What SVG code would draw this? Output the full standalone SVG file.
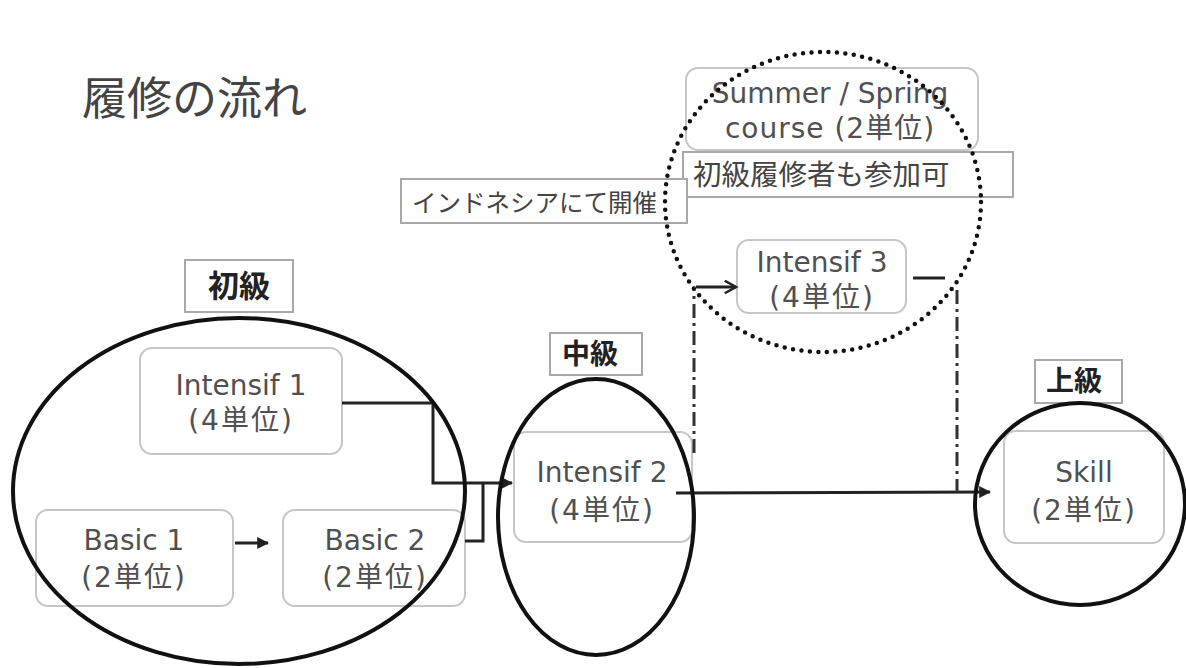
<svg xmlns="http://www.w3.org/2000/svg" width="1186" height="668" viewBox="0 0 1186 668">
<style>
.box{fill:#fff;stroke:#c6c6c6;stroke-width:2}
.lbl{fill:#fff;stroke:#a8a8a8;stroke-width:2}
.t{font-family:"DejaVu Sans","Noto Sans CJK JP",sans-serif;font-size:28px;fill:#505050;text-anchor:middle}
.u{letter-spacing:2px}
.lt{font-family:"Noto Sans CJK JP",sans-serif;font-weight:bold;fill:#222;text-anchor:middle}
.jp{font-family:"Noto Sans CJK JP",sans-serif;fill:#444}
.ell{fill:none;stroke:#111;stroke-width:4}
.ln{fill:none;stroke:#222;stroke-width:3}
.dd{fill:none;stroke:#333;stroke-width:3;stroke-dasharray:14 5 3 5}
</style>
<defs>
<marker id="ah" viewBox="0 0 10 10" refX="9" refY="5" markerWidth="4" markerHeight="4" orient="auto" markerUnits="strokeWidth"><path d="M0,0L10,5L0,10z" fill="#222"/></marker>
<marker id="oa" viewBox="0 0 12 12" refX="10" refY="6" markerWidth="5" markerHeight="5" orient="auto" markerUnits="strokeWidth"><path d="M1,1L10,6L1,11" fill="none" stroke="#222" stroke-width="2"/></marker>
</defs>
<rect width="1186" height="668" fill="#fff"/>
<text x="82" y="115" class="jp" font-size="45" fill="#333">履修の流れ</text>

<g id="intensif1"><rect class="box" x="140" y="348" width="202" height="106" rx="12"/><text class="t" x="241" y="395">Intensif 1</text><text class="t u" x="241" y="430">(4単位)</text></g>
<g id="basic1"><rect class="box" x="36" y="510" width="197" height="96" rx="12"/><text class="t" x="134" y="550">Basic 1</text><text class="t u" x="134" y="587">(2単位)</text></g>
<g id="basic2"><rect class="box" x="283" y="510" width="182" height="96" rx="12"/><text class="t" x="375" y="550">Basic 2</text><text class="t u" x="375" y="587">(2単位)</text></g>
<g id="intensif2"><rect class="box" x="514" y="432" width="178" height="110" rx="12"/><text class="t" x="602" y="482">Intensif 2</text><text class="t u" x="602" y="520">(4単位)</text></g>
<g id="skill"><rect class="box" x="1004" y="431" width="160" height="112" rx="12"/><text class="t" x="1084" y="482">Skill</text><text class="t u" x="1084" y="520">(2単位)</text></g>
<g id="summer"><rect class="box" x="686" y="68" width="292" height="82" rx="12"/><text class="t" x="830" y="103" font-size="29">Summer / Spring</text><text class="t" x="830" y="138" letter-spacing="1">course (2単位)</text></g>
<g id="note-shokyu"><rect class="lbl" x="683" y="152" width="330" height="45"/><text class="jp" x="693" y="185" font-size="28.5">初級履修者も参加可</text></g>
<g id="note-indonesia"><rect class="lbl" x="401" y="179" width="286" height="44"/><text class="jp" x="412" y="212" font-size="24.5">インドネシアにて開催</text></g>
<g id="intensif3"><rect class="box" x="737" y="240" width="169" height="73" rx="12"/><text class="t" x="822" y="272">Intensif 3</text><text class="t u" x="822" y="307">(4単位)</text></g>

<g id="label-shokyu"><rect class="lbl" x="185" y="260" width="108" height="52"/><text class="lt" x="239" y="297" font-size="31">初級</text></g>
<g id="label-chukyu"><rect class="lbl" x="550" y="333" width="92" height="42"/><text class="lt" x="590" y="364" font-size="28">中級</text></g>
<g id="label-jokyu"><rect class="lbl" x="1035" y="360" width="87" height="43"/><text class="lt" x="1074" y="391" font-size="28">上級</text></g>

<g id="connectors">
<polyline class="ln" points="342,403 433,403 433,483 512,483" marker-end="url(#ah)"/>
<polyline class="ln" points="465,541 483,541 483,483"/>
<line class="ln" x1="235" y1="543" x2="268" y2="543" marker-end="url(#ah)"/>
<line class="ln" x1="676" y1="493" x2="990" y2="492" marker-end="url(#ah)"/>
<line class="dd" x1="694" y1="453" x2="694" y2="290"/>
<line class="ln" x1="696" y1="287" x2="736" y2="287" marker-end="url(#oa)"/>
<line class="ln" x1="913" y1="278" x2="945" y2="278"/>
<line class="dd" x1="957" y1="290" x2="957" y2="492"/>
</g>

<g id="groups">
<ellipse id="ell-shokyu" class="ell" cx="239" cy="491" rx="226" ry="173"/>
<ellipse id="ell-chukyu" class="ell" cx="596" cy="517" rx="98" ry="138"/>
<ellipse id="ell-jokyu" class="ell" cx="1080" cy="504" rx="105" ry="101"/>
<ellipse id="ell-summer" cx="823" cy="202" rx="158" ry="150" fill="none" stroke="#111" stroke-width="4.5" stroke-linecap="round" stroke-dasharray="0 8.5"/>
</g>
</svg>
